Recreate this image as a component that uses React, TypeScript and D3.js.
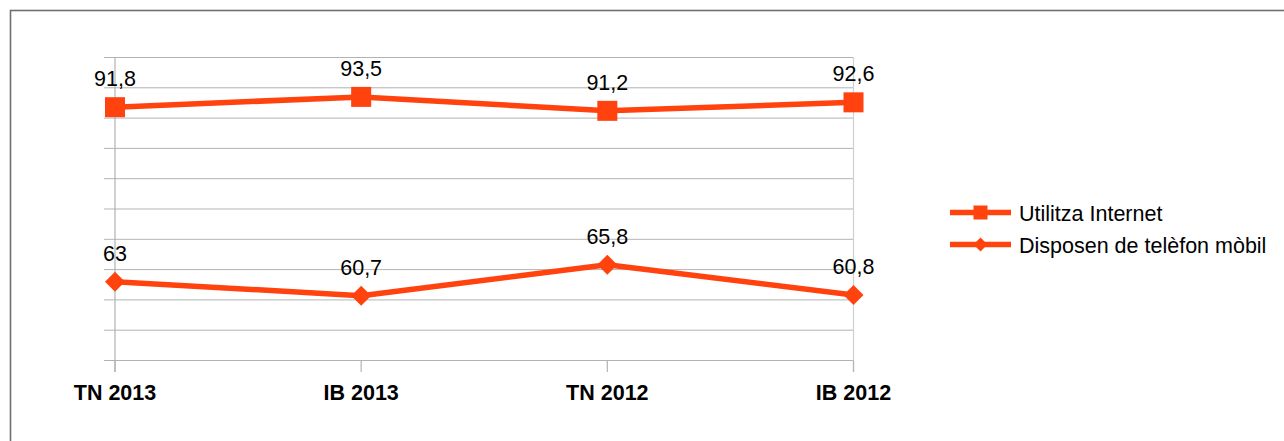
import * as d3 from 'd3';

const categories = ['TN 2013', 'IB 2013', 'TN 2012', 'IB 2012'];
const internet = [91.8, 93.5, 91.2, 92.6];
const mobile = [63, 60.7, 65.8, 60.8];
const seriesNames = ['Utilitza Internet', 'Disposen de telèfon mòbil'];
const yTicks = [50, 55, 60, 65, 70, 75, 80, 85, 90, 95, 100];

const App = () => {
  const width = 1284;
  const height = 441;
  const color = '#ff420e';
  const grid = '#b3b3b3';
  const font = '"Liberation Sans", Arial, sans-serif';
  const fs = 21.5;

  const xScale = d3.scalePoint().domain(categories).range([115, 853.5]).padding(0);
  const yScale = d3.scaleLinear().domain([50, 100]).range([360.5, 57.5]);

  const line = d3.line()
    .x((d, i) => xScale(categories[i]))
    .y((d) => yScale(d));

  const fmt = (v) => String(v).replace('.', ',');
  const diamond = (cx, cy, r) => `M${cx},${cy - r}L${cx + r},${cy}L${cx},${cy + r}L${cx - r},${cy}Z`;

  return (
    <svg width={width} height={height} style={{ position: 'absolute', left: 0, top: 0, background: '#fff' }}>
      <rect x={10.5} y={10.5} width={1400} height={600} fill="none" stroke="#6f6f6f" strokeWidth={1.6} />

      {yTicks.map((t) => (
        <line key={t} x1={104} x2={853.5} y1={yScale(t)} y2={yScale(t)} stroke={grid} strokeWidth={1} />
      ))}
      <line x1={115} x2={115} y1={57.5} y2={372} stroke={grid} strokeWidth={1.2} />
      <line x1={853.5} x2={853.5} y1={57.5} y2={372} stroke="#d0d0d0" strokeWidth={1.2} />
      {categories.map((c) => (
        <g key={c}>
          <line x1={xScale(c)} x2={xScale(c)} y1={360.5} y2={372} stroke={grid} strokeWidth={1.2} />
          <text x={xScale(c)} y={400} textAnchor="middle" fontFamily={font} fontSize={fs} fontWeight="bold" fill="#000">{c}</text>
        </g>
      ))}

      <path d={line(internet)} fill="none" stroke={color} strokeWidth={5.5} strokeLinejoin="round" />
      <path d={line(mobile)} fill="none" stroke={color} strokeWidth={5.5} strokeLinejoin="round" />

      {internet.map((v, i) => (
        <g key={'a' + i}>
          <rect x={xScale(categories[i]) - 10} y={yScale(v) - 10} width={20} height={20} fill={color} />
          <text x={xScale(categories[i])} y={yScale(v) - 21} textAnchor="middle" fontFamily={font} fontSize={fs} fill="#000">{fmt(v)}</text>
        </g>
      ))}
      {mobile.map((v, i) => (
        <g key={'b' + i}>
          <path d={diamond(xScale(categories[i]), yScale(v), 10)} fill={color} />
          <text x={xScale(categories[i])} y={yScale(v) - 21} textAnchor="middle" fontFamily={font} fontSize={fs} fill="#000">{fmt(v)}</text>
        </g>
      ))}

      {seriesNames.map((name, i) => {
        const ly = 212.5 + i * 32;
        return (
          <g key={name}>
            <line x1={950} x2={1011} y1={ly} y2={ly} stroke={color} strokeWidth={5.5} />
            {i === 0
              ? <rect x={973.5} y={ly - 7} width={14} height={14} fill={color} />
              : <path d={diamond(980.5, ly, 7)} fill={color} />}
            <text x={1019} y={ly + 8} fontFamily={font} fontSize={fs} fill="#000">{name}</text>
          </g>
        );
      })}
    </svg>
  );
};

export default App;
